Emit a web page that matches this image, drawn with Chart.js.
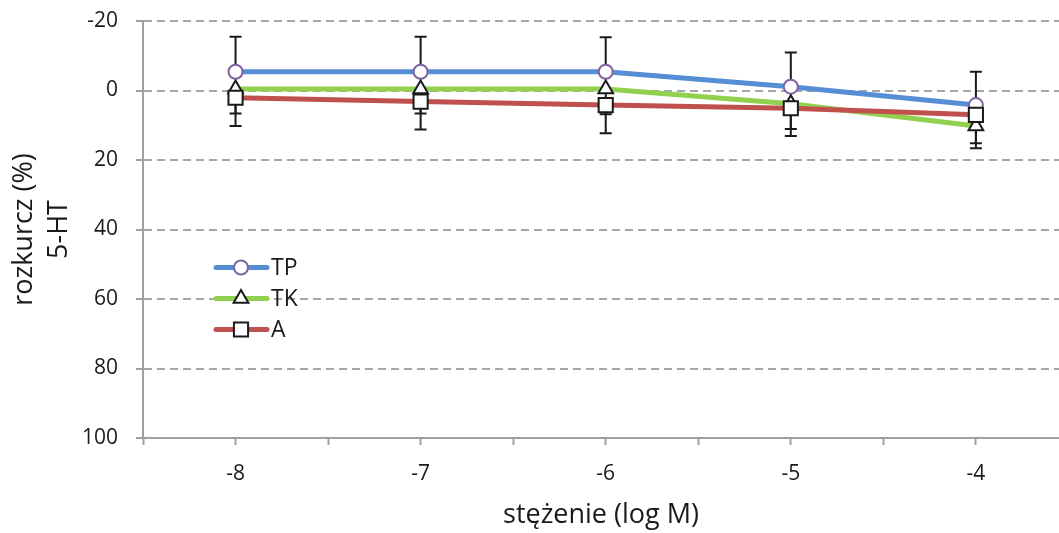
<!DOCTYPE html>
<html><head><meta charset="utf-8">
<script src="https://cdn.jsdelivr.net/npm/chart.js@4/dist/chart.umd.min.js"></script>
<style>html,body{margin:0;padding:0;background:#fff}#wrap{width:1059px;height:533px}</style>
</head><body><div id="wrap"><canvas id="c" width="1059" height="533"></canvas></div>
<script>
const categories = [-8, -7, -6, -5, -4];
const seriesNames = ['TP', 'TK', 'A'];
const valuesTP = [-5.4, -5.4, -5.4, -1.1, 4.2];
const valuesTK = [-0.4, -0.4, -0.4, 3.8, 10.2];
const valuesA  = [2.1, 3.2, 4.2, 5.1, 7.0];
const errTP = [10.1, 10.1, 9.9, 9.8, 9.6];
const errTK = [7.0, 7.0, 7.2, 7.3, 6.4];
const errA  = [8.1, 8.0, 8.1, 8.0, 8.2];
const errDirTP = -1, errDirTK = 1, errDirA = 1;
const yTicks = [-20, 0, 20, 40, 60, 80, 100];

const FONT = '"Open Sans", "Liberation Sans", sans-serif';
const colors = {TP: '#558ED5', TK: '#92D050', A: '#C0504D'};
const markers = {
  TP: {style: 'circle', radius: 7, border: '#8064A2'},
  TK: {style: 'triangle', radius: 8.5, border: '#1A1A1A'},
  A:  {style: 'rect', radius: 10, border: '#1A1A1A'}
};
const toPts = vals => categories.map((c, i) => ({x: c, y: vals[i]}));
function ds(name, vals, errs, dir, order) {
  const m = markers[name];
  return {
    label: name, data: toPts(vals), errs: errs, errDir: dir, order: order,
    borderColor: colors[name], borderWidth: 5, tension: 0, fill: false,
    pointStyle: m.style, pointRadius: m.radius, pointHoverRadius: m.radius,
    pointBackgroundColor: '#fff', pointBorderColor: m.border, pointBorderWidth: 2
  };
}

const errorBars = {
  id: 'errorBars',
  beforeDatasetsDraw(chart) {
    const ctx = chart.ctx, ys = chart.scales.y, xs = chart.scales.x;
    ctx.save();
    ctx.strokeStyle = '#1A1A1A'; ctx.lineWidth = 2;
    chart.data.datasets.forEach(d => {
      d.data.forEach((p, i) => {
        const x = xs.getPixelForValue(p.x);
        const y0 = ys.getPixelForValue(p.y);
        const y1 = ys.getPixelForValue(p.y + d.errDir * d.errs[i]);
        ctx.beginPath();
        ctx.moveTo(x, y0); ctx.lineTo(x, y1);
        ctx.moveTo(x - 6, y1); ctx.lineTo(x + 6, y1);
        ctx.stroke();
      });
    });
    ctx.restore();
  }
};

const legendPlugin = {
  id: 'customLegend',
  afterDraw(chart) {
    const ctx = chart.ctx;
    const ys = [267.5, 298.5, 329.5];
    seriesNames.forEach((n, i) => {
      const y = ys[i];
      ctx.save();
      ctx.strokeStyle = colors[n]; ctx.lineWidth = 5; ctx.lineCap = 'round';
      ctx.beginPath(); ctx.moveTo(216, y); ctx.lineTo(267, y); ctx.stroke();
      const m = markers[n];
      ctx.fillStyle = '#fff'; ctx.strokeStyle = m.border; ctx.lineWidth = 2;
      Chart.helpers.drawPoint(ctx, {pointStyle: m.style, radius: m.radius, rotation: 0, borderWidth: 2}, 241, y);
      ctx.fillStyle = '#1A1A1A'; ctx.font = '23px ' + FONT; ctx.textBaseline = 'middle'; ctx.textAlign = 'left';
      ctx.fillText(n, 271, y + 1);
      ctx.restore();
    });
  }
};

new Chart(document.getElementById('c'), {
  type: 'line',
  data: {datasets: [
    ds('TP', valuesTP, errTP, errDirTP, 3),
    ds('TK', valuesTK, errTK, errDirTK, 2),
    ds('A', valuesA, errA, errDirA, 1)
  ]},
  options: {
    responsive: false, animation: false,
    layout: {autoPadding: false, padding: {top: 21, right: 0, left: 0, bottom: 0}},
    plugins: {legend: {display: false}, tooltip: {enabled: false}},
    scales: {
      x: {
        type: 'linear', min: -8.5, max: -3.551,
        afterFit(s) { s.height = 95; s.paddingLeft = 0; s.paddingRight = 0; },
        ticks: {stepSize: 0.5, includeBounds: false, autoSkip: false, maxRotation: 0,
          color: '#1A1A1A', font: {family: FONT, size: 21}, padding: 16,
          callback: v => Number.isInteger(v) ? String(v) : ''},
        grid: {drawOnChartArea: false, drawTicks: true, tickLength: 7, tickColor: '#A0A0A0', tickWidth: 2, tickBorderDash: []},
        border: {display: true, color: '#A0A0A0', width: 2},
        title: {display: true, text: 'stężenie (log M)', color: '#1A1A1A',
          font: {family: FONT, size: 27}, padding: {top: 0, bottom: 1}}
      },
      y: {
        type: 'linear', reverse: true, min: -20, max: 100,
        afterFit(s) { s.width = 143; s.paddingTop = 0; s.paddingBottom = 0; },
        afterBuildTicks(s) { s.ticks = yTicks.map(v => ({value: v})); },
        ticks: {color: '#1A1A1A', font: {family: FONT, size: 21}, padding: 18},
        grid: {color: c => (c.tick && c.tick.value === 100) ? 'rgba(0,0,0,0)' : '#A6A6A6',
          lineWidth: 2, tickLength: 7, tickColor: '#A0A0A0', tickWidth: 2, tickBorderDash: []},
        border: {display: true, color: '#A0A0A0', width: 2, dash: [8, 5]},
        title: {display: true, text: ['rozkurcz (%)', '5-HT'], color: '#1A1A1A',
          font: {family: FONT, size: 27, lineHeight: 1.3}, padding: {top: 7, bottom: 0}}
      }
    }
  },
  plugins: [errorBars, legendPlugin]
});
</script></body></html>
